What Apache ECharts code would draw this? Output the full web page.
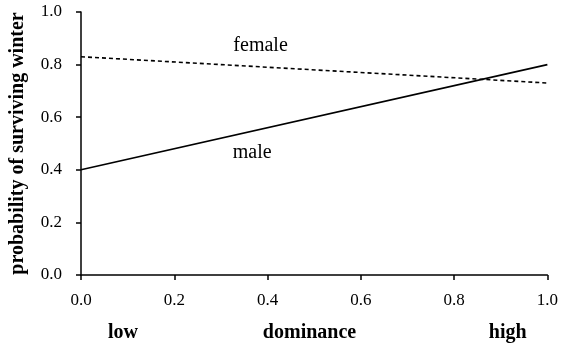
<!DOCTYPE html>
<html>
<head>
<meta charset="utf-8">
<script src="https://cdn.jsdelivr.net/npm/echarts@6/dist/echarts.min.js"></script>
<style>
  html, body { margin: 0; padding: 0; background: #fff; }
  #chart { width: 561px; height: 344px; }
</style>
</head>
<body>
<div id="chart"></div>
<script>
// Dominance rank (0 = low, 1 = high)
const dominance = [0.0, 1.0];
// Probability of surviving winter at each end of the dominance range
const maleSurvival = [0.40, 0.80];
const femaleSurvival = [0.83, 0.73];
// Axis ticks
const xTicks = [0.0, 0.2, 0.4, 0.6, 0.8, 1.0];
const yTicks = [0.0, 0.2, 0.4, 0.6, 0.8, 1.0];

const FONT = '"Liberation Serif", "Times New Roman", serif';

const chart = echarts.init(document.getElementById('chart'), null, { renderer: 'canvas' });

const option = {
  animation: false,
  backgroundColor: '#fff',
  textStyle: { fontFamily: FONT, color: '#000' },
  grid: { left: 80, right: 13, top: 12, bottom: 69, containLabel: false },
  xAxis: {
    type: 'value',
    min: xTicks[0], max: xTicks[xTicks.length - 1], interval: 0.2,
    axisLine: { show: true, lineStyle: { color: '#000', width: 1.5 } },
    axisTick: { show: true, inside: false, length: 5, lineStyle: { color: '#000', width: 1.5 } },
    splitLine: { show: false },
    axisLabel: {
      color: '#000', fontFamily: FONT, fontSize: 17, margin: 17,
      formatter: v => v.toFixed(1)
    }
  },
  yAxis: {
    type: 'value',
    min: yTicks[0], max: yTicks[yTicks.length - 1], interval: 0.2,
    name: 'probability of surviving winter',
    nameLocation: 'middle',
    nameGap: 53,
    nameRotate: 90,
    nameTextStyle: { color: '#000', fontFamily: FONT, fontSize: 20, fontWeight: 'bold' },
    axisLine: { show: true, lineStyle: { color: '#000', width: 1.5 } },
    axisTick: { show: true, inside: false, length: 5, lineStyle: { color: '#000', width: 1.5 } },
    splitLine: { show: false },
    axisLabel: {
      color: '#000', fontFamily: FONT, fontSize: 17, margin: 19,
      formatter: v => v.toFixed(1)
    }
  },
  series: [
    {
      name: 'male',
      type: 'line',
      data: dominance.map((d, i) => [d, maleSurvival[i]]),
      showSymbol: false,
      lineStyle: { color: '#000', width: 1.6, type: 'solid' }
    },
    {
      name: 'female',
      type: 'line',
      data: dominance.map((d, i) => [d, femaleSurvival[i]]),
      showSymbol: false,
      lineStyle: { color: '#000', width: 1.6, type: [4, 3] }
    }
  ]
};

chart.setOption(option);

// Series labels and the low / dominance / high captions under the x axis
function px(x, y) { return chart.convertToPixel({ gridIndex: 0 }, [x, y]); }
const fLab = px(0.385, 0.87);
const mLab = px(0.367, 0.464);
const axisY = px(0, 0)[1];
const textBase = { fontFamily: FONT, fill: '#000', align: 'center', verticalAlign: 'middle' };
chart.setOption({
  graphic: [
    { type: 'text', x: fLab[0], y: fLab[1], style: Object.assign({ text: 'female', fontSize: 20 }, textBase) },
    { type: 'text', x: mLab[0], y: mLab[1], style: Object.assign({ text: 'male', fontSize: 20 }, textBase) },
    { type: 'text', x: px(0.09, 0)[0], y: axisY + 58, style: Object.assign({ text: 'low', fontSize: 20, fontWeight: 'bold' }, textBase) },
    { type: 'text', x: px(0.49, 0)[0], y: axisY + 58, style: Object.assign({ text: 'dominance', fontSize: 20, fontWeight: 'bold' }, textBase) },
    { type: 'text', x: px(0.915, 0)[0], y: axisY + 58, style: Object.assign({ text: 'high', fontSize: 20, fontWeight: 'bold' }, textBase) }
  ]
});
</script>
</body>
</html>
